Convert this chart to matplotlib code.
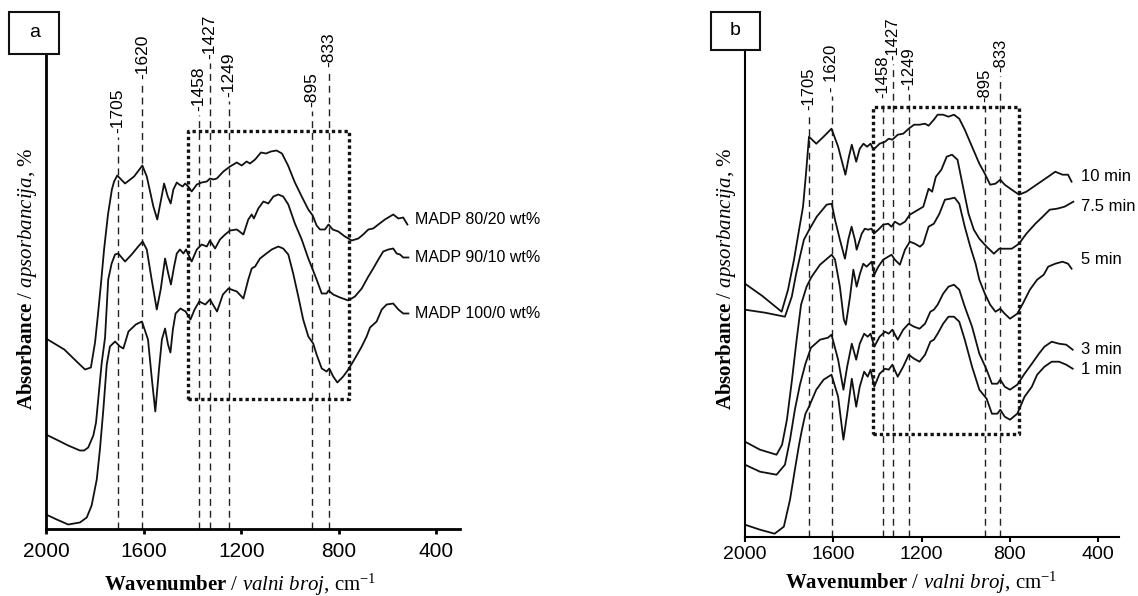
import matplotlib.pyplot as plt
from matplotlib.patches import Rectangle

plt.rcParams['font.family'] = ['Liberation Sans', 'DejaVu Sans']
plt.rcParams['mathtext.fontset'] = 'custom'
plt.rcParams['mathtext.rm'] = 'Liberation Serif'
plt.rcParams['mathtext.it'] = 'Liberation Serif:italic'
plt.rcParams['mathtext.bf'] = 'Liberation Serif:bold'

# ---------------- panel a: MADP blends (wavenumber, absorbance a.u.) ----------------
a_8020_x = [2000, 1925, 1866, 1840, 1816, 1799, 1787, 1775, 1762, 1746, 1730, 1721, 1708, 1676, 1639,
            1605, 1587, 1560, 1544, 1526, 1516, 1501, 1489, 1478, 1464, 1454, 1440, 1430, 1417, 1403,
            1382, 1362, 1341, 1328, 1314, 1300, 1273, 1246, 1218, 1198, 1178, 1164, 1143, 1119, 1098,
            1078, 1055, 1033, 1008, 980, 952, 925, 907, 891, 877, 857, 842, 825, 802, 775, 747, 720,
            700, 679, 659, 638, 611, 577, 556, 536, 519]
a_8020_y = [1.91, 1.80, 1.66, 1.60, 1.62, 1.87, 2.15, 2.45, 2.80, 3.15, 3.40, 3.48, 3.54, 3.46, 3.53,
            3.64, 3.53, 3.23, 3.10, 3.33, 3.46, 3.33, 3.26, 3.40, 3.47, 3.45, 3.43, 3.46, 3.43, 3.38,
            3.45, 3.47, 3.48, 3.51, 3.50, 3.51, 3.58, 3.63, 3.67, 3.64, 3.68, 3.66, 3.70, 3.77, 3.76,
            3.78, 3.79, 3.76, 3.64, 3.47, 3.33, 3.20, 3.14, 3.04, 3.00, 3.00, 3.05, 3.00, 2.98, 2.93,
            2.89, 2.91, 2.95, 3.00, 3.01, 3.05, 3.10, 3.15, 3.11, 3.12, 3.05]

a_9010_x = [2000, 1950, 1909, 1861, 1844, 1827, 1806, 1795, 1786, 1772, 1758, 1745, 1731, 1717, 1704,
            1676, 1649, 1622, 1604, 1587, 1567, 1546, 1530, 1512, 1499, 1488, 1475, 1464, 1451, 1437,
            1426, 1417, 1403, 1382, 1362, 1341, 1328, 1307, 1287, 1266, 1246, 1218, 1191, 1171, 1157,
            1148, 1130, 1109, 1089, 1068, 1048, 1028, 1007, 980, 952, 925, 907, 891, 870, 850, 842,
            823, 795, 761, 734, 706, 679, 659, 638, 618, 597, 577, 563, 549, 536, 515]
a_9010_y = [0.95, 0.89, 0.84, 0.79, 0.79, 0.82, 0.94, 1.07, 1.30, 1.66, 1.92, 2.50, 2.66, 2.75, 2.76,
            2.68, 2.75, 2.83, 2.88, 2.80, 2.50, 2.20, 2.40, 2.71, 2.56, 2.45, 2.63, 2.76, 2.80, 2.76,
            2.80, 2.75, 2.68, 2.80, 2.85, 2.83, 2.89, 2.81, 2.90, 2.95, 2.99, 3.00, 2.95, 3.10, 3.15,
            3.11, 3.21, 3.28, 3.26, 3.33, 3.35, 3.33, 3.25, 3.06, 2.90, 2.71, 2.60, 2.50, 2.36, 2.36,
            2.39, 2.35, 2.32, 2.29, 2.33, 2.41, 2.53, 2.61, 2.70, 2.78, 2.80, 2.81, 2.76, 2.75, 2.72,
            2.72]

a_1000_x = [2000, 1956, 1909, 1861, 1833, 1813, 1792, 1779, 1765, 1751, 1738, 1717, 1697, 1683, 1662,
            1632, 1607, 1582, 1566, 1552, 1537, 1525, 1512, 1500, 1490, 1480, 1469, 1449, 1428, 1408,
            1391, 1372, 1347, 1328, 1299, 1275, 1252, 1218, 1191, 1171, 1157, 1143, 1123, 1102, 1075,
            1048, 1028, 1007, 987, 966, 946, 925, 905, 891, 870, 850, 839, 823, 806, 782, 761, 734,
            706, 686, 672, 645, 624, 604, 577, 556, 536, 515]
a_1000_y = [0.15, 0.10, 0.05, 0.07, 0.12, 0.24, 0.50, 0.80, 1.20, 1.65, 1.83, 1.88, 1.83, 1.81, 1.98,
            2.05, 2.08, 1.90, 1.50, 1.18, 1.60, 1.90, 2.01, 1.85, 1.77, 2.00, 2.16, 2.21, 2.18, 2.10,
            2.20, 2.28, 2.25, 2.30, 2.18, 2.35, 2.41, 2.38, 2.31, 2.50, 2.61, 2.63, 2.71, 2.75, 2.80,
            2.83, 2.81, 2.75, 2.56, 2.33, 2.10, 1.93, 1.86, 1.75, 1.61, 1.58, 1.61, 1.53, 1.47, 1.53,
            1.60, 1.71, 1.83, 1.93, 2.02, 2.08, 2.20, 2.25, 2.26, 2.20, 2.16, 2.16]

a_names = ['MADP 80/20 wt%', 'MADP 90/10 wt%', 'MADP 100/0 wt%']
a_name_x = 488
a_name_y = [3.10, 2.72, 2.16]

# peak markers: label, drawn position, label bottom
a_peak_lab = ['-1705', '-1620', '-1458', '-1427', '-1249', '-895', '-833']
a_peak_x = [1706, 1605, 1372, 1328, 1252, 911, 842]
a_peak_top = [3.96, 4.50, 4.18, 4.70, 4.32, 4.22, 4.62]
a_box = [1417, 758, 1.305, 3.985]  # x0, x1, y0, y1

# ---------------- panel b: curing time ----------------
b_10_x = [2000, 1923, 1834, 1805, 1778, 1755, 1737, 1724, 1710, 1677, 1644, 1608, 1578, 1545, 1529,
          1516, 1496, 1480, 1463, 1447, 1431, 1418, 1390, 1365, 1349, 1332, 1308, 1283, 1258, 1234,
          1209, 1184, 1168, 1144, 1127, 1102, 1078, 1053, 1029, 1004, 971, 938, 913, 889, 865, 843,
          823, 791, 758, 725, 692, 659, 626, 594, 561, 536, 520]
b_10_y = [2.53, 2.41, 2.25, 2.47, 2.77, 3.07, 3.30, 3.62, 4.00, 3.93, 4.00, 4.08, 3.90, 3.62, 3.80,
          3.92, 3.75, 3.88, 3.93, 3.90, 3.93, 3.87, 3.93, 3.95, 3.98, 3.97, 4.02, 4.03, 4.08, 4.12,
          4.12, 4.13, 4.11, 4.17, 4.22, 4.22, 4.20, 4.22, 4.18, 4.07, 3.90, 3.73, 3.63, 3.52, 3.53,
          3.57, 3.52, 3.47, 3.42, 3.45, 3.50, 3.55, 3.60, 3.65, 3.62, 3.62, 3.55]

b_75_x = [2000, 1909, 1819, 1788, 1769, 1751, 1733, 1709, 1675, 1630, 1607, 1592, 1570, 1547, 1532,
          1517, 1502, 1494, 1471, 1457, 1442, 1426, 1416, 1396, 1374, 1351, 1336, 1321, 1298, 1275,
          1253, 1230, 1207, 1192, 1168, 1152, 1135, 1110, 1086, 1062, 1037, 1012, 987, 963, 938, 905,
          872, 848, 823, 791, 758, 725, 684, 651, 619, 586, 552, 512]
b_75_y = [2.27, 2.24, 2.20, 2.40, 2.62, 2.80, 2.97, 3.07, 3.20, 3.32, 3.33, 3.17, 2.97, 2.78, 2.97,
          3.10, 2.97, 2.87, 3.03, 3.08, 3.07, 3.08, 3.03, 3.07, 3.12, 3.13, 3.10, 3.15, 3.12, 3.15,
          3.22, 3.25, 3.28, 3.30, 3.48, 3.45, 3.60, 3.67, 3.80, 3.82, 3.77, 3.50, 3.23, 3.07, 2.98,
          2.90, 2.83, 2.88, 2.88, 2.88, 2.93, 3.03, 3.13, 3.20, 3.27, 3.28, 3.30, 3.35]

b_5_x = [2000, 1932, 1857, 1832, 1810, 1787, 1766, 1746, 1721, 1698, 1660, 1607, 1592, 1570, 1552,
         1543, 1524, 1509, 1494, 1479, 1464, 1449, 1426, 1414, 1396, 1374, 1351, 1336, 1321, 1298,
         1275, 1253, 1230, 1207, 1192, 1168, 1144, 1119, 1094, 1070, 1050, 1029, 1004, 979, 955, 938,
         913, 889, 865, 843, 823, 799, 766, 741, 709, 676, 646, 626, 594, 561, 536, 520]
b_5_y = [0.95, 0.87, 0.82, 0.92, 1.17, 1.57, 1.97, 2.32, 2.50, 2.60, 2.72, 2.82, 2.77, 2.50, 2.17,
         2.12, 2.40, 2.67, 2.50, 2.63, 2.73, 2.70, 2.75, 2.62, 2.70, 2.77, 2.80, 2.82, 2.77, 2.72,
         2.87, 2.95, 2.93, 2.90, 2.93, 3.10, 3.13, 3.23, 3.37, 3.38, 3.39, 3.33, 3.10, 2.90, 2.73,
         2.57, 2.43, 2.32, 2.25, 2.28, 2.23, 2.18, 2.23, 2.33, 2.47, 2.57, 2.62, 2.70, 2.73, 2.75,
         2.73, 2.68]

b_3_x = [2000, 1932, 1857, 1819, 1796, 1774, 1751, 1726, 1701, 1660, 1624, 1608, 1578, 1554, 1537,
         1516, 1496, 1480, 1460, 1444, 1431, 1414, 1390, 1365, 1349, 1332, 1308, 1283, 1258, 1234,
         1209, 1184, 1160, 1144, 1127, 1102, 1078, 1053, 1029, 1004, 971, 938, 905, 881, 856, 843,
         823, 799, 766, 733, 700, 668, 643, 610, 577, 544, 515]
b_3_y = [0.72, 0.65, 0.62, 0.72, 0.97, 1.27, 1.52, 1.73, 1.89, 1.97, 1.99, 2.02, 1.77, 1.47, 1.70,
         1.93, 1.77, 1.93, 2.03, 2.00, 2.03, 1.90, 2.00, 2.05, 2.03, 2.07, 1.97, 2.07, 2.13, 2.10,
         2.08, 2.13, 2.25, 2.27, 2.32, 2.43, 2.50, 2.52, 2.47, 2.30, 2.10, 1.83, 1.67, 1.53, 1.53,
         1.57, 1.50, 1.47, 1.52, 1.63, 1.73, 1.83, 1.90, 1.95, 1.93, 1.92, 1.87]

b_1_x = [2000, 1932, 1866, 1824, 1796, 1774, 1755, 1742, 1726, 1710, 1677, 1644, 1608, 1578, 1554,
         1537, 1516, 1496, 1480, 1460, 1444, 1431, 1414, 1390, 1365, 1349, 1332, 1308, 1283, 1258,
         1234, 1209, 1184, 1160, 1144, 1127, 1102, 1078, 1053, 1029, 1004, 971, 938, 905, 881, 856,
         843, 823, 799, 766, 733, 700, 676, 643, 610, 577, 544, 515]
b_1_y = [0.12, 0.07, 0.03, 0.10, 0.37, 0.67, 0.92, 1.07, 1.23, 1.30, 1.47, 1.57, 1.62, 1.40, 0.97,
         1.23, 1.58, 1.30, 1.50, 1.65, 1.60, 1.67, 1.50, 1.63, 1.68, 1.67, 1.72, 1.60, 1.70, 1.82,
         1.78, 1.75, 1.82, 1.95, 1.97, 2.03, 2.13, 2.20, 2.20, 2.15, 1.97, 1.70, 1.47, 1.38, 1.23,
         1.23, 1.27, 1.20, 1.17, 1.23, 1.40, 1.50, 1.62, 1.70, 1.75, 1.75, 1.72, 1.68]

b_names = ['10 min', '7.5 min', '5 min', '3 min', '1 min']
b_name_x = 479
b_name_y = [3.60, 3.30, 2.77, 1.87, 1.67]

b_peak_lab = ['-1705', '- 1620', '-1458', '-1427', '-1249', '-895', '-833']
b_peak_x = [1709, 1607, 1375, 1331, 1256, 914, 843]
b_peak_top = [4.27, 4.45, 4.39, 4.77, 4.47, 4.35, 4.65]
b_box = [1420, 758, 1.024, 4.294]

xticks = [2000, 1600, 1200, 800, 400]

fig = plt.figure(figsize=(11.38, 5.96), dpi=100)
ax_a = fig.add_axes([0.04042, 0.11158, 0.36344, 0.79782])
ax_b = fig.add_axes([0.65466, 0.0995, 0.32865, 0.81661])

curve_kw = dict(color='#111111', lw=1.3)
dash = (0, (5, 3.5))
dot = (0, (1, 0.9))


def setup(ax, ylim_top, spine_w, tick_fs, pad):
    ax.set_xlim(2000, 305)
    ax.set_ylim(0, ylim_top)
    for s in ['top', 'right']:
        ax.spines[s].set_visible(False)
    for s in ['left', 'bottom']:
        ax.spines[s].set_linewidth(spine_w)
    ax.set_xticks(xticks)
    ax.set_yticks([])
    ax.tick_params(axis='x', direction='out', length=3.5, width=spine_w,
                   labelsize=tick_fs, pad=pad)


def markers(ax, xs, tops, labs, fs):
    for x, t, lab in zip(xs, tops, labs):
        ax.plot([x, x], [0, t - 0.04], color='#222222', lw=1.0, ls=dash)
        ax.text(x, t, lab, rotation=90, ha='center', va='bottom', fontsize=fs)


def dotted_box(ax, box):
    x0, x1, y0, y1 = box
    ax.plot([x0, x1, x1, x0, x0], [y0, y0, y1, y1, y0], color='#111111',
            lw=2.4, ls=dot, solid_capstyle='butt', dash_capstyle='butt')


def axis_labels(ax, xl, yl):
    ax.set_xlabel(r'$\mathbf{Wavenumber}$ / $\mathit{valni\ broj}$, cm$^{-1}$',
                  family='Liberation Serif', fontsize=15)
    ax.set_ylabel(r'$\mathbf{Absorbance}$ / $\mathit{apsorbancija}$, %',
                  family='Liberation Serif', fontsize=15)
    ax.xaxis.set_label_coords(*xl)
    ax.yaxis.set_label_coords(*yl)
    ax.xaxis.label.set_va('center')
    ax.yaxis.label.set_va('center')


# panel a
setup(ax_a, 4.755, 2.0, 15, 5.5)
markers(ax_a, a_peak_x, a_peak_top, a_peak_lab, 12.5)
dotted_box(ax_a, a_box)
for xs, ys in [(a_8020_x, a_8020_y), (a_9010_x, a_9010_y), (a_1000_x, a_1000_y)]:
    ax_a.plot(xs, ys, **curve_kw)
for name, y in zip(a_names, a_name_y):
    ax_a.text(a_name_x, y, name, ha='left', va='center', fontsize=11.5, clip_on=False)
axis_labels(ax_a, (0.469, -0.117), (-0.046, 0.528))

# panel b
setup(ax_b, 4.867, 1.5, 14, 3.4)
markers(ax_b, b_peak_x, b_peak_top, b_peak_lab, 12)
dotted_box(ax_b, b_box)
for xs, ys in [(b_10_x, b_10_y), (b_75_x, b_75_y), (b_5_x, b_5_y), (b_3_x, b_3_y), (b_1_x, b_1_y)]:
    ax_b.plot(xs, ys, **curve_kw)
for name, y in zip(b_names, b_name_y):
    ax_b.text(b_name_x, y, name, ha='left', va='center', fontsize=12, clip_on=False)
axis_labels(ax_b, (0.4706, -0.095), (-0.051, 0.5305))

# panel letters
for (x0, y0, w, h), (tx, ty), letter in [((0.00817, 0.9094, 0.04368, 0.0710), (0.0300, 0.9448), 'a'),
                                          ((0.6248, 0.9161, 0.0430, 0.0643), (0.6463, 0.9482), 'b')]:
    fig.patches.append(Rectangle((x0, y0), w, h, transform=fig.transFigure,
                                 fill=False, lw=1.5, edgecolor='#111111'))
    fig.text(tx, ty, letter, ha='center', va='center', fontsize=14)

fig.savefig('out.png', dpi=100)
